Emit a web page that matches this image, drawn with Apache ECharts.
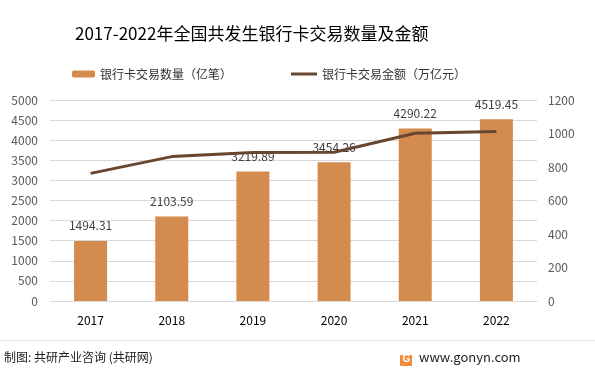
<!DOCTYPE html>
<html><head><meta charset="utf-8">
<script src="https://cdn.jsdelivr.net/npm/echarts@6/dist/echarts.min.js"></script>
<style>html,body{margin:0;padding:0;background:#fff}#c{width:595px;height:372px}</style>
</head><body><div id="c"></div>
<script>
const years = ['2017','2018','2019','2020','2021','2022'];
const countValues = [1494.31, 2103.59, 3219.89, 3454.26, 4290.22, 4519.45];
const amountValues = [761.78, 862.10, 886.39, 888.00, 1001.46, 1012.67];
const leftTicks = [0, 5000, 500];
const rightTicks = [0, 1200, 200];
const barName = '银行卡交易数量（亿笔）';
const lineName = '银行卡交易金额（万亿元）';

const font = '"Noto Sans CJK SC", "Microsoft YaHei", sans-serif';
const chart = echarts.init(document.getElementById('c'));
chart.setOption({
  animation: false,
  textStyle: {fontFamily: font},
  title: {
    text: '2017-2022年全国共发生银行卡交易数量及金额',
    left: 70, top: 20,
    textStyle: {fontSize: 17, fontWeight: 'normal', color: '#000', fontFamily: font}
  },
  legend: [
    {data: [barName], left: 67, top: 63, itemWidth: 23, itemHeight: 7, itemGap: 4,
     textStyle: {fontSize: 12, color: '#333'}},
    {data: [{name: lineName, icon: 'rect'}], left: 286, top: 63, itemWidth: 26, itemHeight: 3, itemGap: 4,
     textStyle: {fontSize: 12, color: '#333'}}
  ],
  grid: {left: 50, right: 58, top: 100, bottom: 71, containLabel: false},
  xAxis: {
    type: 'category', data: years,
    axisLine: {lineStyle: {color: '#d9d9d9'}},
    axisTick: {show: false},
    axisLabel: {color: '#000', fontSize: 12, margin: 13}
  },
  yAxis: [
    {type: 'value', min: leftTicks[0], max: leftTicks[1], interval: leftTicks[2],
     axisLine: {show: false}, axisTick: {show: false},
     axisLabel: {color: '#595959', fontSize: 12, margin: 12, formatter: v => String(v)},
     splitLine: {lineStyle: {color: '#d9d9d9'}}},
    {type: 'value', min: rightTicks[0], max: rightTicks[1], interval: rightTicks[2],
     axisLine: {show: false}, axisTick: {show: false},
     axisLabel: {color: '#595959', fontSize: 12, margin: 11, formatter: v => String(v)},
     splitLine: {show: false}}
  ],
  series: [
    {name: barName, type: 'bar', data: countValues, barWidth: 33, yAxisIndex: 0,
     itemStyle: {color: '#d38b4e'},
     label: {show: true, position: 'top', distance: 9, color: '#404040', fontSize: 12,
       formatter: p => p.value.toFixed(2)}},
    {name: lineName, type: 'line', data: amountValues, yAxisIndex: 1,
     symbol: 'none', z: 5,
     lineStyle: {color: '#674730', width: 3},
     itemStyle: {color: '#674730'}}
  ],
  graphic: [
    {type: 'line', shape: {x1: 0, y1: 340.5, x2: 595, y2: 340.5}, style: {stroke: '#e3e3e3', lineWidth: 1}},
    {type: 'text', left: 4, top: 351, style: {text: '制图: 共研产业咨询 (共研网)', font: '12px ' + font, fill: '#222'}},
    {type: 'rect', shape: {x: 400, y: 355, width: 12, height: 11, r: 1}, style: {fill: '#f08a3c'}},
    {type: 'text', left: 402.5, top: 354.5, style: {text: 'G', font: 'bold 10px sans-serif', fill: '#fff'}},
    {type: 'text', left: 419, top: 351, style: {text: 'www.gonyn.com', font: '13px ' + font, fill: '#222'}}
  ]
});
</script></body></html>
